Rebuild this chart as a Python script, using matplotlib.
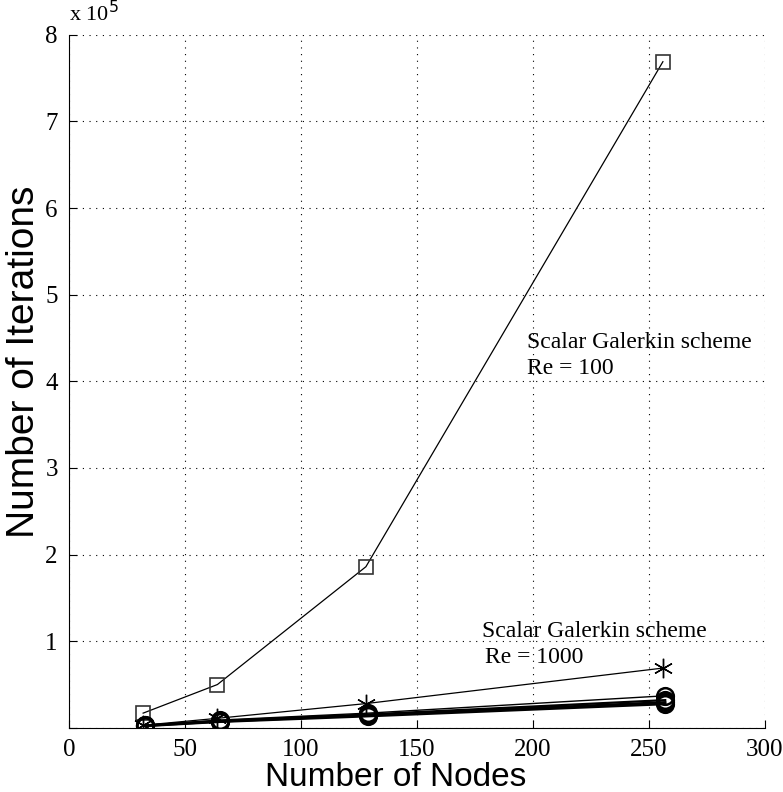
import matplotlib.pyplot as plt

# 격자 크기 (노드 수)
nodes_sq = [32, 64, 128, 256]
nodes_star = [32, 64, 128, 256]
nodes_circ = [33, 65, 129, 257]

# 반복 횟수
iter_re100 = [17000, 50000, 186000, 769000]
iter_re1000 = [3000, 11000, 28000, 69000]
iter_circ_a = [3000, 9000, 17000, 37000]
iter_circ_b = [2800, 8000, 15500, 32000]
iter_circ_c = [2500, 7500, 14500, 29500]
iter_circ_d = [2200, 7000, 13500, 27500]

xticks = [0, 50, 100, 150, 200, 250, 300]
yticks = [0, 1, 2, 3, 4, 5, 6, 7, 8]
ytick_labels = ['', '1', '2', '3', '4', '5', '6', '7', '8']

serif = ['Liberation Serif', 'DejaVu Serif']
sans = ['Liberation Sans', 'DejaVu Sans']

fig = plt.figure(figsize=(7.83, 7.92), dpi=100)
ax = fig.add_axes([0.088, 0.081, 0.889, 0.875])

sc = 1e5
ax.plot(nodes_sq, [v / sc for v in iter_re100], color='black', lw=0.9,
        marker='s', ms=10, mfc='none', mec='#333333', mew=1.2)
ax.plot(nodes_star, [v / sc for v in iter_re1000], color='black', lw=0.9,
        marker=(6, 2, 0), ms=14, mfc='none', mec='black', mew=1.0)
for vals, lw in [(iter_circ_a, 1.0), (iter_circ_b, 1.6), (iter_circ_c, 1.8), (iter_circ_d, 1.8)]:
    ax.plot(nodes_circ, [v / sc for v in vals], color='black', lw=lw,
            marker='o', ms=12, mfc='none', mec='black', mew=1.8)

ax.set_xlim(0, 300)
ax.set_ylim(0, 8)
ax.set_xticks(xticks)
ax.set_yticks(yticks)
ax.set_yticklabels(ytick_labels)
ax.tick_params(direction='in', length=6, labelsize=18, pad=8)
for lab in ax.get_xticklabels() + ax.get_yticklabels():
    lab.set_family(serif)

ax.grid(True, linestyle=(0, (1, 5)), color='black', lw=0.8)
ax.spines['top'].set_visible(False)
ax.spines['right'].set_visible(False)

ax.set_xlabel('Number of Nodes', fontsize=24, family=sans)
ax.set_ylabel('Number of Iterations', fontsize=28, family=sans)
ax.xaxis.set_label_coords(0.47, -0.05)
ax.yaxis.set_label_coords(-0.038, 0.528)

ax.text(0, 8.1, 'x 10$^{5}$', fontsize=16, family=serif, va='bottom', ha='left')

ax.text(197.4, 4.38, 'Scalar Galerkin scheme', fontsize=17, family=serif, va='baseline')
ax.text(197.4, 4.09, 'Re = 100', fontsize=17, family=serif, va='baseline')
ax.text(178, 1.05, 'Scalar Galerkin scheme', fontsize=17, family=serif, va='baseline')
ax.text(179.3, 0.75, 'Re = 1000', fontsize=17, family=serif, va='baseline')

fig.savefig('out.png', dpi=100)
